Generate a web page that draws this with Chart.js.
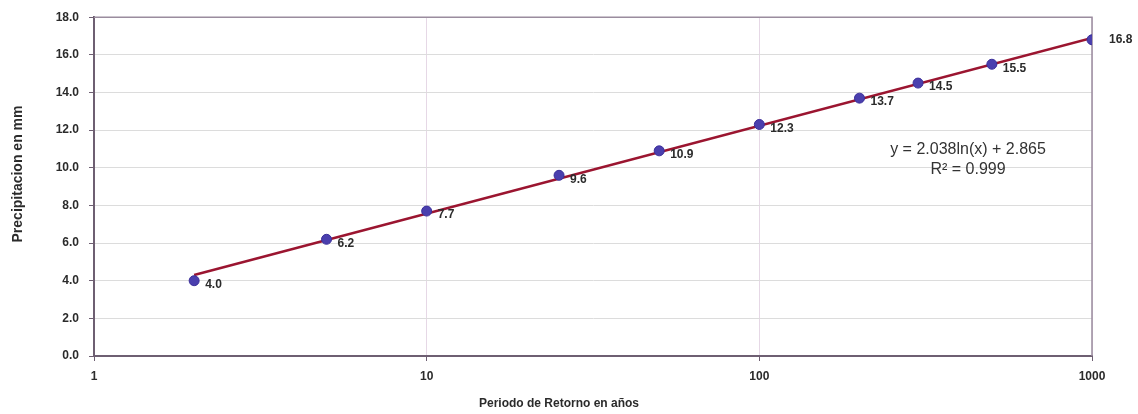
<!DOCTYPE html>
<html>
<head>
<meta charset="utf-8">
<script src="https://cdn.jsdelivr.net/npm/chart.js@4/dist/chart.umd.min.js"></script>
<style>
  html, body { margin: 0; padding: 0; background: #fff; }
  #wrap { width: 1138px; height: 414px; }
</style>
</head>
<body>
<div id="wrap"><canvas id="chart" width="1138" height="414"></canvas></div>
<script>
// DATA

const periods = [2, 5, 10, 25, 50, 100, 200, 300, 500, 1000];
const precip = [4.0, 6.2, 7.7, 9.6, 10.9, 12.3, 13.7, 14.5, 15.5, 16.8];
const trendX = [2, 1000];
const trendY = [4.3, 16.9];
const xTicks = [1, 10, 100, 1000];
const equation = ['y = 2.038ln(x) + 2.865', 'R² = 0.999'];
const xTitle = 'Periodo de Retorno en años';
const yTitle = 'Precipitacion en mm';

const axisColor = '#6e5f72';
const textColor = '#2b2b2b';
const fontFamily = '"Liberation Sans", Arial, sans-serif';

// PLUGINS

const pointLabels = {
    id: 'pointLabels',
    afterDatasetsDraw(chart) {
        const meta = chart.getDatasetMeta(1);
        const ctx = chart.ctx;
        ctx.save();
        ctx.font = 'bold 12px ' + fontFamily;
        ctx.fillStyle = textColor;
        ctx.textBaseline = 'middle';
        meta.data.forEach((pt, i) => {
            const last = i === precip.length - 1;
            ctx.fillText(precip[i].toFixed(1), pt.x + (last ? 17 : 11), pt.y + (last ? 0 : 4));
        });
        ctx.restore();
    }
};

// frame, equation and axis titles
const extras = {
    id: 'extras',
    beforeDatasetsDraw(chart) {
        const ctx = chart.ctx;
        const a = chart.chartArea;
        ctx.save();
        ctx.strokeStyle = '#9a8c9e';
        ctx.lineWidth = 1.5;
        ctx.beginPath();
        ctx.moveTo(a.left, a.top);
        ctx.lineTo(a.right, a.top);
        ctx.lineTo(a.right, a.bottom);
        ctx.stroke();
        ctx.restore();
    },
    afterDraw(chart) {
        const ctx = chart.ctx;
        const a = chart.chartArea;
        ctx.save();
        ctx.fillStyle = '#333';
        ctx.textAlign = 'center';
        ctx.textBaseline = 'middle';
        ctx.font = '16px ' + fontFamily;
        ctx.fillText(equation[0], a.right - 124, 150);
        ctx.fillText(equation[1], a.right - 124, 170);
        ctx.fillStyle = textColor;
        ctx.font = 'bold 12px ' + fontFamily;
        ctx.fillText(xTitle, 559, 404);
        ctx.translate(18, 174);
        ctx.rotate(-Math.PI / 2);
        ctx.font = 'bold 14px ' + fontFamily;
        ctx.fillText(yTitle, 0, 0);
        ctx.restore();
    }
};

// CHART

new Chart(document.getElementById('chart'), {
    type: 'scatter',
    data: {
        datasets: [
            {
                type: 'line',
                data: trendX.map((x, i) => ({ x, y: trendY[i] })),
                borderColor: '#9b1530',
                borderWidth: 2.5,
                pointRadius: 0,
                fill: false,
                order: 2
            },
            {
                data: periods.map((x, i) => ({ x, y: precip[i] })),
                backgroundColor: '#4a3fae',
                borderColor: '#3b2f9a',
                borderWidth: 1,
                pointRadius: 5,
                order: 1
            }
        ]
    },
    options: {
        responsive: false,
        animation: false,
        layout: { padding: { left: 0, top: 14, right: 46, bottom: 0 } },
        plugins: { legend: { display: false }, tooltip: { enabled: false } },
        scales: {
            x: {
                type: 'logarithmic',
                min: 1,
                max: 1000,
                afterBuildTicks: (axis) => { axis.ticks = xTicks.map(v => ({ value: v })); },
                afterFit: (axis) => { axis.height = 58; },
                border: { color: axisColor, width: 2 },
                grid: { color: '#e6d8e6', tickColor: axisColor, tickLength: 5, lineWidth: 1 },
                ticks: {
                    color: textColor,
                    font: { family: fontFamily, size: 12, weight: 'bold' },
                    padding: 8,
                    maxRotation: 0,
                    callback: (v) => String(v)
                }
            },
            y: {
                min: 0,
                max: 18,
                afterFit: (axis) => { axis.width = 94; },
                border: { color: axisColor, width: 2 },
                grid: { color: '#dcdcdc', tickColor: axisColor, tickLength: 5, lineWidth: 1 },
                ticks: {
                    stepSize: 2,
                    color: textColor,
                    font: { family: fontFamily, size: 12, weight: 'bold' },
                    padding: 10,
                    callback: (v) => v.toFixed(1)
                }
            }
        }
    },
    plugins: [pointLabels, extras]
});
</script>
</body>
</html>
